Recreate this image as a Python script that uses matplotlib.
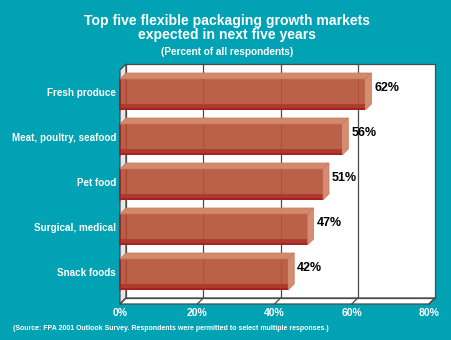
import matplotlib
matplotlib.use("Agg")
import matplotlib.pyplot as plt
from matplotlib.patches import Rectangle, Polygon

# ---- data ----
categories = ["Fresh produce", "Meat, poultry, seafood", "Pet food",
              "Surgical, medical", "Snack foods"]
values = [62, 56, 51, 47, 42]
value_labels = ["62%", "56%", "51%", "47%", "42%"]
ticks = [0, 20, 40, 60, 80]
tick_labels = ["0%", "20%", "40%", "60%", "80%"]
title_lines = ["Top five flexible packaging growth markets",
               "expected in next five years"]
subtitle = "(Percent of all respondents)"
source = "(Source: FPA 2001 Outlook Survey. Respondents were permitted to select multiple responses.)"

W, H = 451, 340
BG = "#00A2B3"
FONT = "Liberation Sans"

fig = plt.figure(figsize=(W / 100, H / 100), dpi=100, facecolor=BG)
# back wall in pixels: x 126..435, y 64..298
ax = fig.add_axes([126 / W, (H - 298) / H, (435 - 126) / W, (298 - 64) / H])
ax.set_xlim(0, 80)
ytop, ybot = -0.544, 4.656
ax.set_ylim(ybot, ytop)
ax.set_facecolor("white")
for s in ax.spines.values():
    s.set_color("#4a4a4a")
    s.set_linewidth(0.9)
ax.set_xticks([])
ax.set_yticks([])

pxx = 80 / (435 - 126)      # data units per pixel (x)
pxy = (ybot - ytop) / (298 - 64)  # data units per pixel (y)
dxu = 6 * pxx
dyu = 6 * pxy

# gridlines on back wall
for t in ticks[1:-1]:
    ax.plot([t, t], [ytop, ybot], color="#4a4a4a", lw=0.9, zorder=1)

# left side wall
ax.add_patch(Polygon([(0, ytop), (0, ybot), (-dxu, ybot + dyu), (-dxu, ytop + dyu)],
                     closed=True, facecolor="#E6E6E6", edgecolor="#4a4a4a",
                     lw=0.9, clip_on=False, zorder=1))
# floor
ax.add_patch(Polygon([(0, ybot), (80, ybot), (80 - dxu, ybot + dyu), (-dxu, ybot + dyu)],
                     closed=True, facecolor="white", edgecolor="#4a4a4a",
                     lw=0.9, clip_on=False, zorder=1))
for t in ticks:
    ax.plot([t, t - dxu], [ybot, ybot + dyu], color="#4a4a4a", lw=0.9,
            clip_on=False, zorder=1)

# bars
h = 31 * pxy
for i, (v, lab, cat) in enumerate(zip(values, value_labels, categories)):
    fc = i + dyu
    ft, fb = fc - h / 2, fc + h / 2
    # front face
    ax.add_patch(Rectangle((-dxu, ft), v + dxu, h, facecolor="#B6533A",
                           edgecolor="none", alpha=0.92, clip_on=False, zorder=3))
    # bottom face seen through
    ax.add_patch(Rectangle((-dxu, fb - dyu), v + dxu, dyu, facecolor="#AE3A2E",
                           edgecolor="none", clip_on=False, zorder=3))
    ax.plot([-dxu, v], [fb - 0.5 * pxy, fb - 0.5 * pxy], color="#A51C1C", lw=1.2,
            clip_on=False, zorder=4, solid_capstyle="butt")
    ax.plot([-dxu + 0.3 * pxx, -dxu + 0.3 * pxx], [ft, fb], color="#A51C1C", lw=1.2,
            clip_on=False, zorder=4)
    # back-face edges seen through
    ax.plot([0, 0, v], [ft, fb - dyu, fb - dyu], color="#A8452F", lw=0.6,
            alpha=0.8, clip_on=False, zorder=4)
    # top face
    ax.add_patch(Polygon([(-dxu, ft), (v, ft), (v + dxu, ft - dyu), (0, ft - dyu)],
                         closed=True, facecolor="#D2896C", edgecolor="#C8775A",
                         lw=0.5, clip_on=False, zorder=4))
    # right face
    ax.add_patch(Polygon([(v, ft), (v + dxu, ft - dyu), (v + dxu, fb - dyu), (v, fb)],
                         closed=True, facecolor="#D48D72", edgecolor="#C8775A",
                         lw=0.5, clip_on=False, zorder=4))
    # value label
    ax.text(v + dxu + 3 * pxx, i, lab, ha="left", va="center", fontsize=9,
            fontweight="bold", family=FONT, color="black", clip_on=False, zorder=5)
    # category label
    ax.text(-dxu - 4 * pxx, fc - 1 * pxy, cat, ha="right", va="center", fontsize=7.1,
            fontweight="bold", family=FONT, color="white", clip_on=False)

# tick labels
for t, tl in zip(ticks, tick_labels):
    ax.text(t - dxu, ybot + dyu + 9 * pxy, tl, ha="center", va="center",
            fontsize=7.5, fontweight="bold", family=FONT, color="white", clip_on=False)

# titles
fig.text(227 / W, (H - 21) / H, title_lines[0], ha="center", va="center",
         fontsize=10.1, fontweight="bold", family=FONT, color="white")
fig.text(227 / W, (H - 35) / H, title_lines[1], ha="center", va="center",
         fontsize=10.1, fontweight="bold", family=FONT, color="white")
fig.text(227 / W, (H - 52) / H, subtitle, ha="center", va="center",
         fontsize=7.2, fontweight="bold", family=FONT, color="white")
fig.text(13 / W, (H - 328) / H, source, ha="left", va="center",
         fontsize=5.05, fontweight="bold", family=FONT, color="white")

fig.savefig("out.png", dpi=100, facecolor=BG)
